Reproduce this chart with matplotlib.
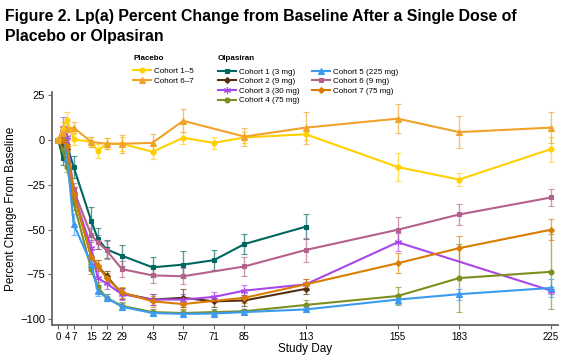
import matplotlib
matplotlib.use("Agg")
import matplotlib.pyplot as plt
from matplotlib.lines import Line2D

plt.rcParams['font.family'] = ['Liberation Sans', 'DejaVu Sans']

# ---- data ----
xticks = [0, 4, 7, 15, 22, 29, 43, 57, 71, 85, 113, 155, 183, 225]
yticks = [25, 0, -25, -50, -75, -100]

p15_days = [0, 2, 4, 7, 15, 18, 22, 29, 43, 57, 71, 85, 113, 155, 183, 225]
p15_vals = [0, 6, 11.5, 0.5, -1, -6, -2, -2, -6.5, 1.3, -1.5, 1.5, 3.3, -15, -22, -5]
p15_err = [0, 4, 4, 3, 3, 4, 3, 4, 4, 3.5, 3.5, 3, 3, 8, 3.5, 7]

p67_days = [0, 2, 4, 7, 15, 22, 29, 43, 57, 85, 113, 155, 183, 225]
p67_vals = [0, 4, 6, 7, -1, -2, -2, -1.5, 10.8, 2, 7, 12, 4.5, 7]
p67_err = [0, 4, 5, 3, 3, 3, 5, 5, 6.5, 5, 9, 8, 9, 8.5]

c1_days = [0, 2, 4, 7, 15, 18, 22, 29, 43, 57, 71, 85, 113]
c1_vals = [0, -10, -3, -15, -45, -55, -61, -64.5, -71, -69.5, -67, -58, -48.3]
c1_err = [0, 4, 4, 6, 7.7, 6, 5, 6, 5.5, 7.7, 5.5, 5.5, 7]

c2_days = [0, 2, 4, 7, 15, 18, 22, 29, 43, 57, 71, 85, 113]
c2_vals = [0, -2, -5, -30, -65, -70, -76, -85.5, -89, -88, -90, -89.5, -83]
c2_err = [0, 3, 3, 4, 4, 3, 3, 3, 3, 5, 3, 3, 3]

c3_days = [0, 2, 4, 7, 15, 18, 22, 29, 43, 57, 71, 85, 113, 155, 225]
c3_vals = [0, 7, 2, -30, -60, -77, -80, -86, -89, -89, -87.5, -84, -80.5, -57, -84]
c3_err = [0, 6, 4, 4, 4, 4, 3, 3, 3, 3, 3, 3, 3, 5, 2]

c4_days = [0, 2, 4, 7, 15, 18, 22, 29, 43, 57, 71, 85, 113, 155, 183, 225]
c4_vals = [0, -5, -15, -35, -72, -82, -88, -92.5, -96, -96.5, -96, -95.5, -92, -87, -77, -73.5]
c4_err = [0, 3, 3, 4, 3, 3, 2, 2, 1.5, 1.5, 1.5, 1.5, 3, 5, 19, 21]

c5_days = [0, 2, 4, 7, 15, 18, 22, 29, 43, 57, 71, 85, 113, 155, 183, 225]
c5_vals = [0, 3, -10, -47, -69, -84, -88, -93, -96.5, -97, -96.8, -96, -94.5, -89, -86, -82.5]
c5_err = [0, 3, 3, 6, 4, 3, 2, 2, 1, 1, 1, 1, 1.5, 2.5, 3, 5]

c6_days = [0, 2, 4, 7, 15, 18, 22, 29, 43, 57, 85, 113, 155, 183, 225]
c6_vals = [0, 2, -2, -28, -53, -57, -61.5, -72, -75.5, -76, -70.5, -61.3, -50, -41.5, -32]
c6_err = [0, 3, 3, 4, 4, 4, 5, 4.5, 4.5, 4.5, 5.5, 6.5, 7, 6, 5]

c7_days = [0, 2, 4, 7, 15, 18, 22, 29, 43, 57, 85, 113, 155, 183, 225]
c7_vals = [0, 0, -3, -30, -65, -70, -77, -85, -90, -91.5, -88, -80.5, -68.7, -60.3, -50]
c7_err = [0, 3, 3, 4, 4, 3, 3, 3, 3, 3, 3, 3, 5.5, 7, 6]

placebo_labels = ['Cohort 1\u20135', 'Cohort 6\u20137']
olpa_labels = ['Cohort 1 (3 mg)', 'Cohort 2 (9 mg)', 'Cohort 3 (30 mg)', 'Cohort 4 (75 mg)',
               'Cohort 5 (225 mg)', 'Cohort 6 (9 mg)', 'Cohort 7 (75 mg)']

# ---- styles ----
series = [
    (c1_days, c1_vals, c1_err, '#00675F', 's', 3.2),
    (c2_days, c2_vals, c2_err, '#553010', 'D', 3.0),
    (c3_days, c3_vals, c3_err, '#A848E8', (6, 2, 0), 5),
    (c4_days, c4_vals, c4_err, '#7E8E20', 'o', 3.5),
    (c5_days, c5_vals, c5_err, '#3A9BF0', '^', 3.8),
    (c6_days, c6_vals, c6_err, '#B5618C', 's', 3.2),
    (c7_days, c7_vals, c7_err, '#D97D00', 'D', 3.0),
]
placebo = [
    (p15_days, p15_vals, p15_err, '#FFD000', 'o', 3.5),
    (p67_days, p67_vals, p67_err, '#F0A22A', '^', 3.8),
]

fig = plt.figure(figsize=(5.69, 3.60), dpi=100)
ax = fig.add_axes([0.0914, 0.0972, 0.8893, 0.6468])

for d, v, e, c, m, ms in series + placebo:
    cont = ax.errorbar(d, v, yerr=e, color=c, marker=m, markersize=ms, linewidth=1.5,
                       elinewidth=1.0, ecolor=c, capsize=2.5, capthick=1.0,
                       markeredgewidth=0.8)
    for art in cont.lines[1]:
        art.set_alpha(0.65)
    for art in cont.lines[2]:
        art.set_alpha(0.65)

ax.set_xlim(-2.9, 228.2)
ax.set_ylim(-103.2, 26.8)
ax.set_xticks(xticks)
ax.set_xticklabels([str(t) for t in xticks], fontsize=7)
ax.set_yticks(yticks)
ax.set_yticklabels([str(t).replace('-', '\u2212') for t in yticks], fontsize=8)
ax.set_xlabel('Study Day', fontsize=8.5, labelpad=1)
ax.set_ylabel('Percent Change From Baseline', fontsize=8.5, labelpad=2)
for s in ['top', 'right']:
    ax.spines[s].set_visible(False)
for s in ['left', 'bottom']:
    ax.spines[s].set_color('#666666')
    ax.spines[s].set_linewidth(1.3)
ax.tick_params(axis='both', colors='#666666', length=3, width=0.8, labelcolor='black', pad=2)

# ---- legends ----
def handle(c, m, ms):
    return Line2D([], [], color=c, marker=m, markersize=ms, linewidth=1.5, markeredgewidth=0.8)

ph = [handle(c, m, ms) for (_, _, _, c, m, ms) in placebo]
oh = [handle(c, m, ms) for (_, _, _, c, m, ms) in series]

fig.text(133 / 569, 1 - 58.5 / 360, 'Placebo', ha='left', va='center', fontsize=5.8, fontweight='bold')
fig.text(218 / 569, 1 - 58.5 / 360, 'Olpasiran', ha='left', va='center', fontsize=5.8, fontweight='bold')

fig.legend(ph, placebo_labels, loc='upper left', bbox_to_anchor=(133 / 569, 1 - 67.5 / 360),
           frameon=False, fontsize=5.8, handlelength=2.2, labelspacing=0.24, borderpad=0,
           borderaxespad=0, handletextpad=0.45)
fig.legend(oh, olpa_labels, loc='upper left', bbox_to_anchor=(218 / 569, 1 - 68 / 360), ncol=2,
           frameon=False, fontsize=5.8, handlelength=2.2, labelspacing=0.24, borderpad=0,
           borderaxespad=0, handletextpad=0.45, columnspacing=1.5)

fig.text(0.009, 0.975, 'Figure 2. Lp(a) Percent Change from Baseline After a Single Dose of\nPlacebo or Olpasiran',
         ha='left', va='top', fontsize=11.4, fontweight='bold', linespacing=1.4)

fig.savefig('out.png', dpi=100)
